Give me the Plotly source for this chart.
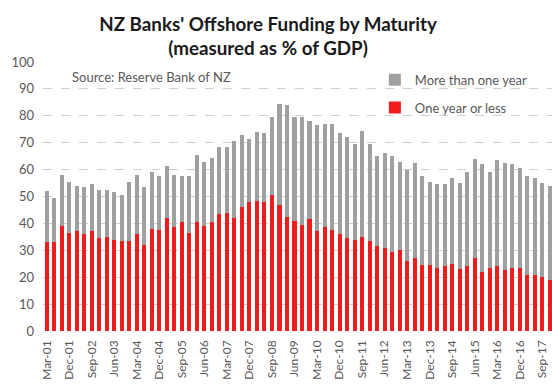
import plotly.graph_objects as go

quarters = [
    "Mar-01", "Jun-01", "Sep-01", "Dec-01",
    "Mar-02", "Jun-02", "Sep-02", "Dec-02",
    "Mar-03", "Jun-03", "Sep-03", "Dec-03",
    "Mar-04", "Jun-04", "Sep-04", "Dec-04",
    "Mar-05", "Jun-05", "Sep-05", "Dec-05",
    "Mar-06", "Jun-06", "Sep-06", "Dec-06",
    "Mar-07", "Jun-07", "Sep-07", "Dec-07",
    "Mar-08", "Jun-08", "Sep-08", "Dec-08",
    "Mar-09", "Jun-09", "Sep-09", "Dec-09",
    "Mar-10", "Jun-10", "Sep-10", "Dec-10",
    "Mar-11", "Jun-11", "Sep-11", "Dec-11",
    "Mar-12", "Jun-12", "Sep-12", "Dec-12",
    "Mar-13", "Jun-13", "Sep-13", "Dec-13",
    "Mar-14", "Jun-14", "Sep-14", "Dec-14",
    "Mar-15", "Jun-15", "Sep-15", "Dec-15",
    "Mar-16", "Jun-16", "Sep-16", "Dec-16",
    "Mar-17", "Jun-17", "Sep-17", "Dec-17",
]

one_year_or_less = [
    33, 33, 39, 36.5, 37, 36, 37, 34.5, 35, 34, 33.5, 33.5,
    36, 32, 38, 37.5, 42, 38.5, 40.5, 36.5, 40.5, 39, 40.5, 43.5,
    44, 42, 46, 48, 48.5, 48, 50.5, 47, 42.5, 41, 39.5, 41.5,
    37, 38.5, 37.5, 36, 34.5, 34, 35, 33.5, 31.5, 31, 29.5, 30,
    26, 27, 24.5, 24.5, 23.5, 24, 25, 23, 24, 27, 22, 23.5,
    24, 22.5, 23.5, 23.5, 21, 21, 20, 19,
]

more_than_one_year = [
    19, 16.5, 19, 19, 17, 17.5, 17.5, 18, 17.5, 17.5, 17, 22,
    22, 21.5, 21, 20, 19.5, 19.5, 17, 21, 25, 24, 24, 25,
    24.5, 28.5, 27, 23.5, 25.5, 25.5, 29, 37.5, 41.5, 38.5, 40, 36.5,
    39.5, 38.5, 39.5, 37.5, 37.5, 35.5, 39.5, 36, 33.5, 35, 35.5, 33,
    34, 35.5, 33, 31, 31, 30.5, 32, 32, 35, 37, 40, 35.5,
    39.5, 40, 38.5, 37, 36.5, 36, 35, 35,
]

tick_labels = quarters[::3]

FONT = "Lato, 'Open Sans', sans-serif"
GREY_TEXT = "#595959"

fig = go.Figure()
fig.add_trace(go.Bar(
    x=quarters, y=one_year_or_less, name="One year or less",
    marker=dict(color="#ee1c1c", line=dict(width=0)),
    legendgroup="short", legendrank=2,
))
fig.add_trace(go.Bar(
    x=quarters, y=more_than_one_year, name="More than one year",
    marker=dict(color="#a0a0a0", line=dict(width=0)),
    legendgroup="long", legendrank=1,
))

fig.update_layout(
    width=552, height=392,
    barmode="stack",
    bargap=0.46,
    paper_bgcolor="white",
    plot_bgcolor="white",
    margin=dict(l=43, r=0, t=62, b=61),
    font=dict(family=FONT, color=GREY_TEXT, size=12),
    title=dict(
        text="NZ Banks' Offshore Funding by Maturity<br>(measured as % of GDP)",
        x=0.4855, xanchor="center", xref="container",
        y=0.922, yanchor="middle", yref="container",
        font=dict(family=FONT, size=18.8, color="#1a1a1a", weight="bold"),
    ),
    legend=dict(
        x=0.652, y=0.99, xanchor="left", yanchor="top",
        traceorder="grouped",
        tracegroupgap=8,
        font=dict(family=FONT, size=13, color=GREY_TEXT),
        bgcolor="rgba(0,0,0,0)",
    ),
    annotations=[dict(
        text="Source: Reserve Bank of NZ",
        xref="paper", yref="paper", x=0.053, y=0.944,
        xanchor="left", yanchor="middle", showarrow=False,
        font=dict(family=FONT, size=13, color=GREY_TEXT),
    )],
)

fig.update_xaxes(
    type="category",
    range=[-0.5, 67.3],
    tickmode="array",
    tickvals=tick_labels,
    ticktext=tick_labels,
    tickangle=-90,
    tickfont=dict(family=FONT, size=12, color=GREY_TEXT),
    showgrid=False,
    showline=False,
    ticks="",
    ticklabelstandoff=6,
)
fig.update_yaxes(
    range=[0, 100],
    tickmode="linear", tick0=0, dtick=10,
    tickfont=dict(family=FONT, size=13, color=GREY_TEXT),
    showgrid=True, gridcolor="#d0d0d0", gridwidth=1, griddash="dash",
    zeroline=False, showline=False, ticks="",
    ticklabelstandoff=8,
)

fig.write_html("out.html")
